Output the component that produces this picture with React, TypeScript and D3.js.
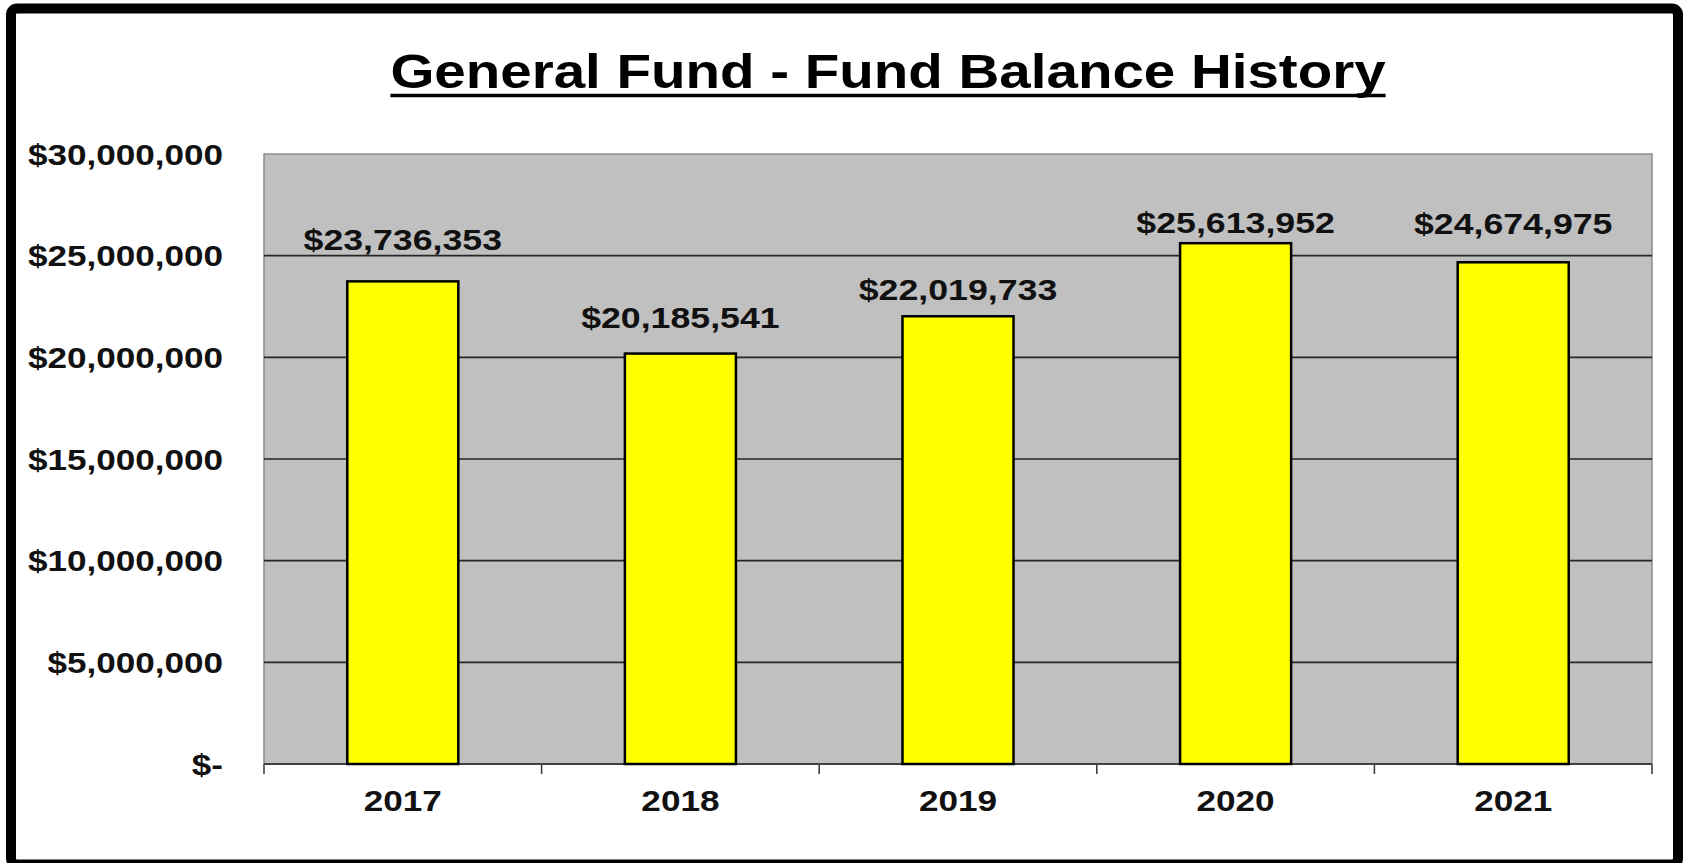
import React, { useRef, useEffect } from 'react';
import * as d3 from 'd3';

const years = ['2017', '2018', '2019', '2020', '2021'];
const balances = [23736353, 20185541, 22019733, 25613952, 24674975];
const yTicks = [0, 5000000, 10000000, 15000000, 20000000, 25000000, 30000000];
// the value labels sit at slightly different heights above each bar in the original
const labelLift = [31, 26, 16, 10, 28];

const W = 1683;
const H = 863;
const SX = 1.19; // the source picture is stretched sideways

export default function App() {
  const svgRef = useRef<SVGSVGElement>(null);

  useEffect(() => {
    if (!svgRef.current) return;
    document.body.style.margin = '0';

    const svg = d3.select(svgRef.current);
    svg.selectAll('*').remove();

    const plot = { left: 264, right: 1652, top: 154, bottom: 764 };
    const font = '"Liberation Sans", Arial, sans-serif';

    const x = d3.scaleBand<string>()
      .domain(years)
      .range([plot.left, plot.right])
      .padding(0);

    const y = d3.scaleLinear()
      .domain([0, 30000000])
      .range([plot.bottom, plot.top]);

    const money = (v: number) => (v === 0 ? '$-' : '$' + d3.format(',')(v));

    // white background
    svg.append('rect')
      .attr('width', W)
      .attr('height', H)
      .attr('fill', '#fff');

    // plot area
    svg.append('rect')
      .attr('x', plot.left)
      .attr('y', plot.top)
      .attr('width', plot.right - plot.left)
      .attr('height', plot.bottom - plot.top)
      .attr('fill', '#c0c0c0')
      .attr('stroke', '#8c8c8c')
      .attr('stroke-width', 1.5);

    // grid lines
    svg.append('g')
      .selectAll('line')
      .data(yTicks.filter(t => t > 0 && t < 30000000))
      .join('line')
      .attr('x1', plot.left)
      .attr('x2', plot.right)
      .attr('y1', d => y(d))
      .attr('y2', d => y(d))
      .attr('stroke', '#262626')
      .attr('stroke-width', 1.6);

    // x axis line + ticks at category boundaries
    svg.append('line')
      .attr('x1', plot.left)
      .attr('x2', plot.right)
      .attr('y1', plot.bottom)
      .attr('y2', plot.bottom)
      .attr('stroke', '#404040')
      .attr('stroke-width', 2);

    const bounds = years.map(d => x(d)!).concat([plot.right]);
    svg.append('g')
      .selectAll('line')
      .data(bounds)
      .join('line')
      .attr('x1', d => d)
      .attr('x2', d => d)
      .attr('y1', plot.bottom)
      .attr('y2', plot.bottom + 10)
      .attr('stroke', '#404040')
      .attr('stroke-width', 1.6);

    // bars
    const barW = x.bandwidth() * 0.4;
    svg.append('g')
      .selectAll('rect')
      .data(balances)
      .join('rect')
      .attr('x', (d, i) => x(years[i])! + (x.bandwidth() - barW) / 2)
      .attr('y', d => y(d))
      .attr('width', barW)
      .attr('height', d => plot.bottom - y(d))
      .attr('fill', '#ffff00')
      .attr('stroke', '#000')
      .attr('stroke-width', 2.5);

    // value labels
    svg.append('g')
      .selectAll('text')
      .data(balances)
      .join('text')
      .attr('transform', (d, i) =>
        `translate(${x(years[i])! + x.bandwidth() / 2},${y(d) - labelLift[i]}) scale(${SX},1)`)
      .attr('text-anchor', 'middle')
      .style('font-family', font)
      .style('font-size', '30px')
      .style('font-weight', 'bold')
      .style('fill', '#111')
      .text(d => money(d));

    // y labels
    svg.append('g')
      .selectAll('text')
      .data(yTicks)
      .join('text')
      .attr('transform', d => `translate(223,${y(d) + 10.5}) scale(${SX},1)`)
      .attr('text-anchor', 'end')
      .style('font-family', font)
      .style('font-size', '29.5px')
      .style('font-weight', 'bold')
      .style('fill', '#111')
      .text(d => money(d));

    // x labels
    svg.append('g')
      .selectAll('text')
      .data(years)
      .join('text')
      .attr('transform', d => `translate(${x(d)! + x.bandwidth() / 2},811) scale(${SX},1)`)
      .attr('text-anchor', 'middle')
      .style('font-family', font)
      .style('font-size', '29.5px')
      .style('font-weight', 'bold')
      .style('fill', '#111')
      .text(d => d);

    // title with underline
    const title = svg.append('text')
      .attr('transform', `translate(888,88) scale(${SX},1)`)
      .attr('text-anchor', 'middle')
      .style('font-family', font)
      .style('font-size', '47.5px')
      .style('font-weight', 'bold')
      .style('fill', '#000')
      .text('General Fund - Fund Balance History');

    const tw = (title.node() as SVGTextElement).getComputedTextLength() * SX;
    svg.append('line')
      .attr('x1', 888 - tw / 2)
      .attr('x2', 888 + tw / 2)
      .attr('y1', 95.5)
      .attr('y2', 95.5)
      .attr('stroke', '#000')
      .attr('stroke-width', 3.5);

    // outer frame
    svg.append('rect')
      .attr('x', 11)
      .attr('y', 8.5)
      .attr('width', 1667)
      .attr('height', 856)
      .attr('rx', 6)
      .attr('fill', 'none')
      .attr('stroke', '#000')
      .attr('stroke-width', 10);
  }, []);

  return (
    <svg
      ref={svgRef}
      width={W}
      height={H}
      style={{ position: 'absolute', left: 0, top: 0, display: 'block' }}
    />
  );
}
